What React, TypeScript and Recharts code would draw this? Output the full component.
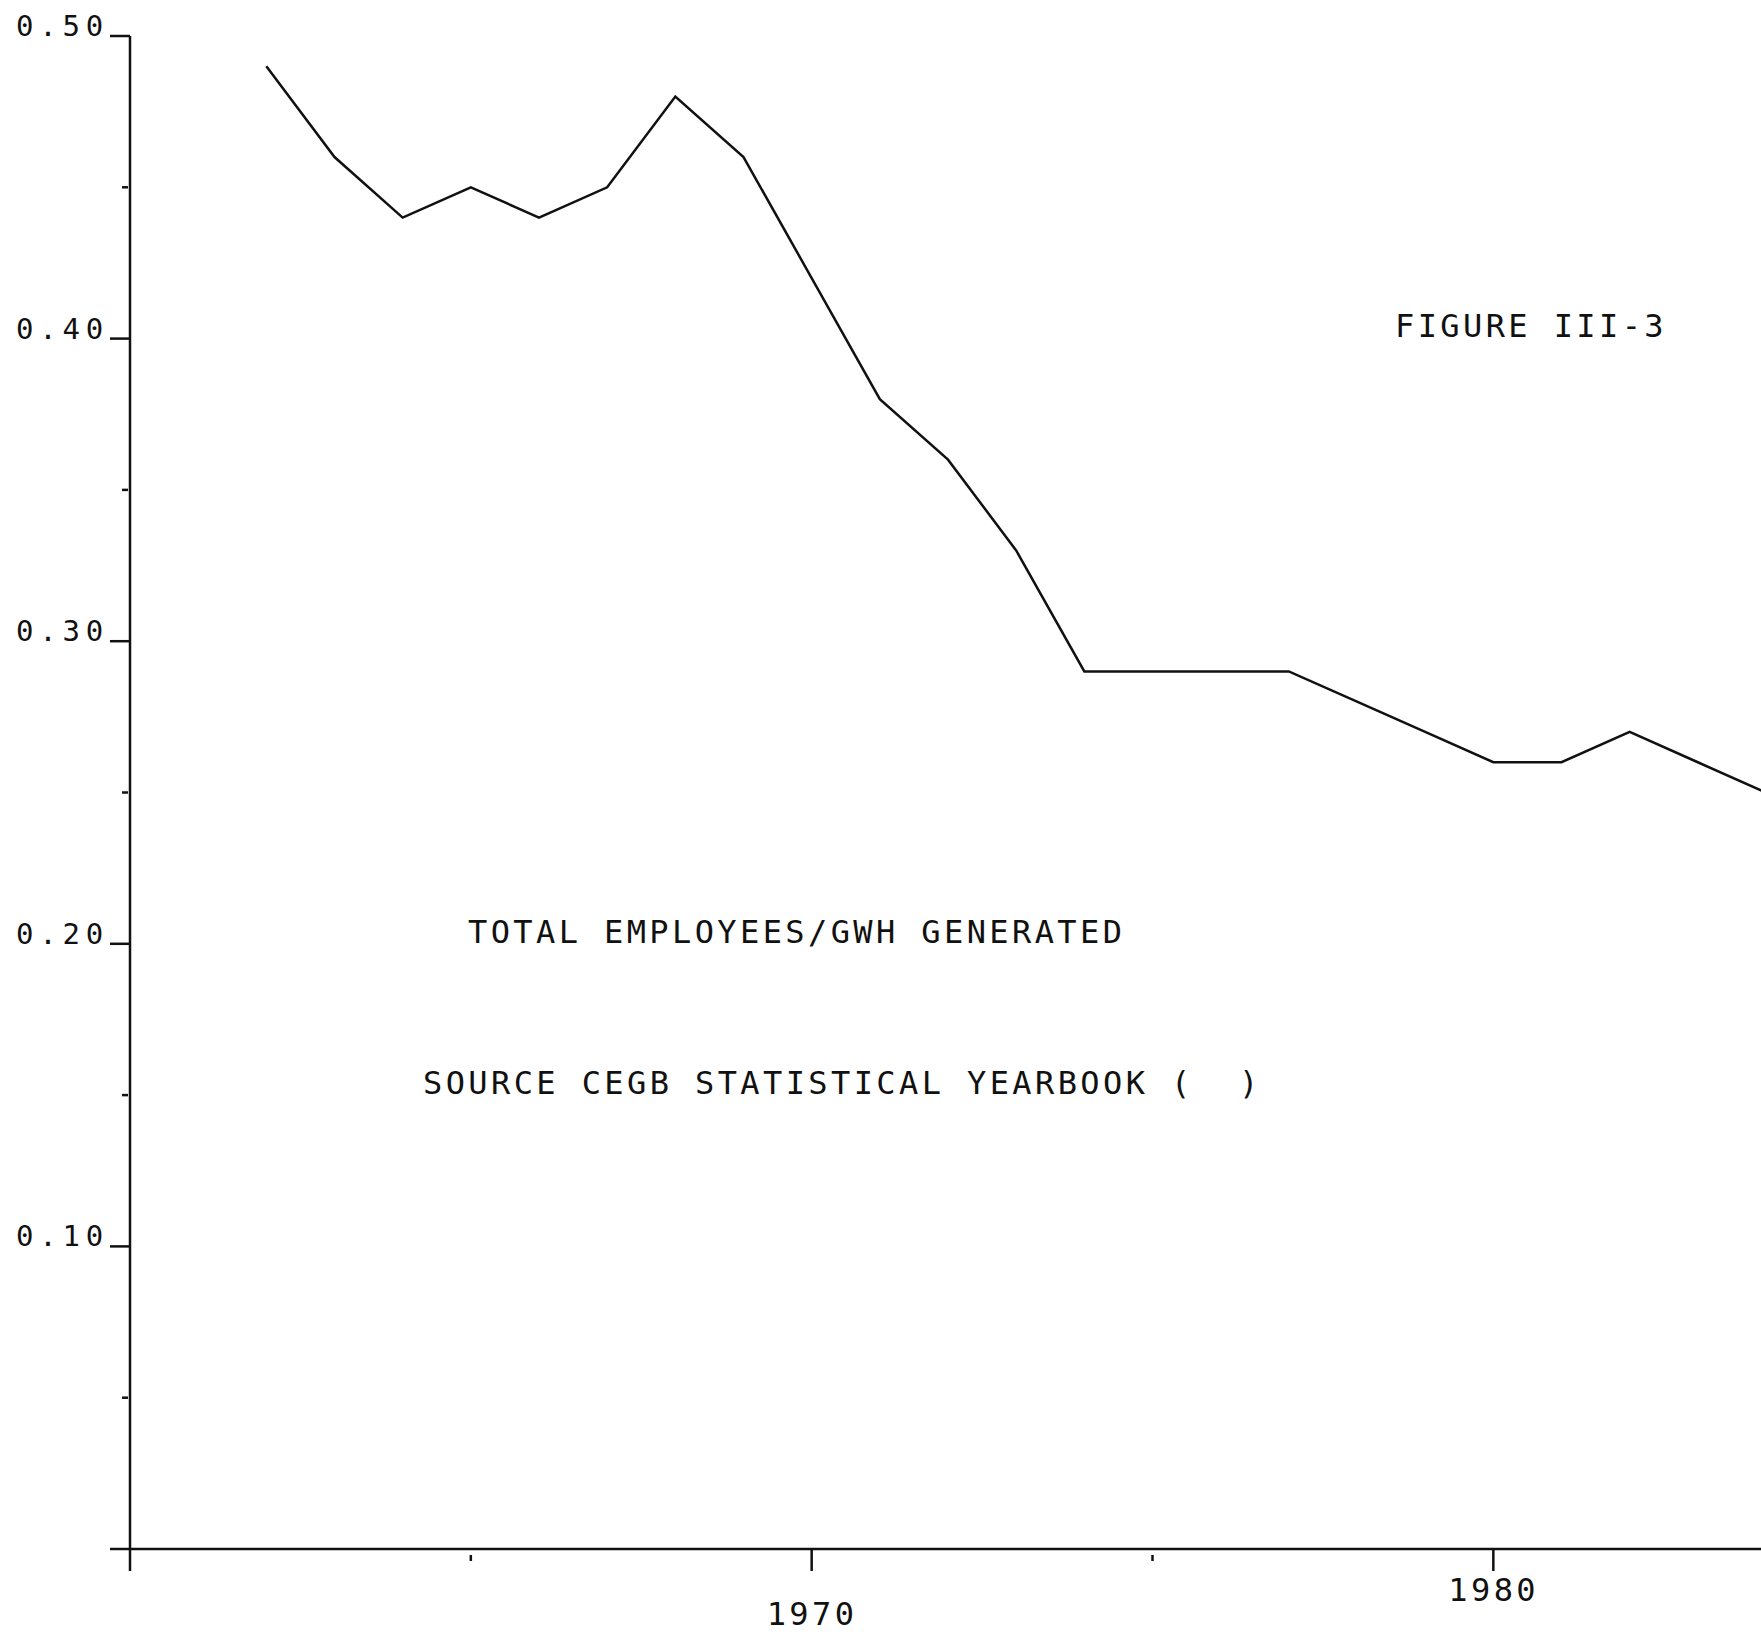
import { LineChart, Line, XAxis, YAxis, Customized } from 'recharts'

// years on the x axis
const years = [
  1962, 1963, 1964, 1965, 1966, 1967, 1968, 1969, 1970, 1971, 1972,
  1973, 1974, 1975, 1976, 1977, 1978, 1979, 1980, 1981, 1982, 1983, 1984,
]

// total employees per GWh generated
const employeesPerGwh = [
  0.49, 0.46, 0.44, 0.45, 0.44, 0.45, 0.48, 0.46, 0.42, 0.38, 0.36,
  0.33, 0.29, 0.29, 0.29, 0.29, 0.28, 0.27, 0.26, 0.26, 0.27, 0.26, 0.25,
]

const yTicks = [0, 0.05, 0.1, 0.15, 0.2, 0.25, 0.3, 0.35, 0.4, 0.45, 0.5]
const yLabels = ['0.10', '0.20', '0.30', '0.40', '0.50']
const xTicks = [1960, 1965, 1970, 1975, 1980]
const xLabels = ['1970', '1980']

const data = years.map((year, i) => ({ year, value: employeesPerGwh[i] }))

const INK = '#111'
const FONT = '"DejaVu Sans Mono", "Liberation Mono", monospace'

const YTick = ({ x, y, payload }: any) => {
  const v = payload.value
  const major = Math.round(v * 100) % 10 === 0
  const label = v.toFixed(2)
  if (!major) {
    return <line x1={x - 8} x2={x - 2} y1={y} y2={y} stroke={INK} strokeWidth={2.5} />
  }
  return (
    <g>
      <line x1={x - 20} x2={x} y1={y} y2={y} stroke={INK} strokeWidth={2.5} />
      {yLabels.includes(label) && (
        <text x={x - 114} y={y} fontFamily={FONT} fontSize={29} letterSpacing={5.8} fill={INK}>
          {label}
        </text>
      )}
    </g>
  )
}

const XTick = ({ x, y, payload }: any) => {
  const v = payload.value
  const major = v % 10 === 0
  const label = String(v)
  // the plotter put the 1980 label a little higher than the 1970 one
  const dy = label === '1980' ? 52 : 76
  if (!major) {
    return <line x1={x} x2={x} y1={y + 6} y2={y + 12} stroke={INK} strokeWidth={2.5} />
  }
  return (
    <g>
      <line x1={x} x2={x} y1={y} y2={y + 22} stroke={INK} strokeWidth={2.5} />
      {xLabels.includes(label) && (
        <text x={x - 45} y={y + dy} fontFamily={FONT} fontSize={32} letterSpacing={3.4} fill={INK}>
          {label}
        </text>
      )}
    </g>
  )
}

const Notes = () => (
  <g fontFamily={FONT} fontSize={32} letterSpacing={3.4} fill={INK}>
    <text x={1395} y={337}>FIGURE III-3</text>
    <text x={468} y={943}>TOTAL EMPLOYEES/GWH GENERATED</text>
    <text x={423} y={1094}>{'SOURCE CEGB STATISTICAL YEARBOOK (\u00a0\u00a0)'}</text>
  </g>
)

export default function App() {
  return (
    <div style={{ position: 'absolute', left: 0, top: 0, background: '#fff' }}>
      <LineChart
        width={1761}
        height={1638}
        data={data}
        margin={{ top: 36, right: -5, left: 0, bottom: 0 }}
      >
        <XAxis
          dataKey="year"
          type="number"
          domain={[1960, 1984]}
          ticks={xTicks}
          height={89}
          tickSize={0}
          tickMargin={0}
          tickLine={false}
          axisLine={{ stroke: INK, strokeWidth: 2.5 }}
          tick={<XTick />}
          interval={0}
        />
        <YAxis
          type="number"
          domain={[0, 0.5]}
          ticks={yTicks}
          width={130}
          tickSize={0}
          tickMargin={0}
          tickLine={false}
          axisLine={{ stroke: INK, strokeWidth: 2.5 }}
          tick={<YTick />}
          interval={0}
        />
        <Line
          type="linear"
          dataKey="value"
          stroke={INK}
          strokeWidth={2.5}
          dot={false}
          isAnimationActive={false}
        />
        <Customized component={<Notes />} />
      </LineChart>
    </div>
  )
}
